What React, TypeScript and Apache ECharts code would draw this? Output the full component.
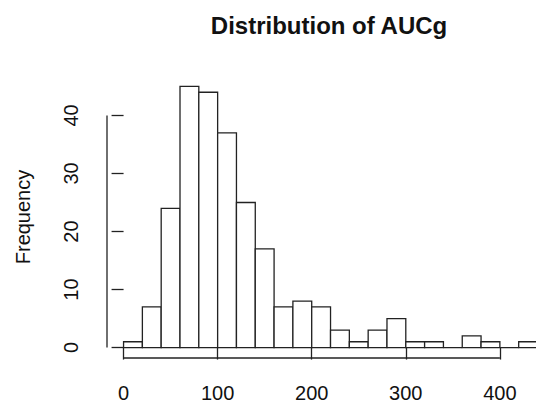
import React, { useEffect, useRef } from "react";
import * as echarts from "echarts";

const binStarts = [0, 20, 40, 60, 80, 100, 120, 140, 160, 180, 200, 220, 240, 260, 280, 300, 320, 340, 360, 380, 400, 420];
const binWidth = 20;
const counts = [1, 7, 24, 45, 44, 37, 25, 17, 7, 8, 7, 3, 1, 3, 5, 1, 1, 0, 2, 1, 0, 1];
const xTicks = [0, 100, 200, 300, 400];
const yTicks = [0, 10, 20, 30, 40];

const FONT = "'Liberation Sans', Arial, Helvetica, sans-serif";

export default function App() {
  const ref = useRef<HTMLDivElement>(null);
  useEffect(() => {
    if (!ref.current) return;
    const chart = echarts.init(ref.current, null, { renderer: "svg" });
    const xMin = -17.6;
    const xMax = 438.4;
    const yMin = -1.8;
    const yMax = 46.8;
    const barData = binStarts.map((s, i) => [s, s + binWidth, counts[i]]);
    chart.setOption({
      animation: false,
      backgroundColor: "#ffffff",
      title: {
        text: "Distribution of AUCg",
        left: 329,
        top: 13,
        padding: 0,
        textAlign: "center",
        textStyle: { fontFamily: FONT, fontSize: 24, fontWeight: "bold", color: "#111" },
      },
      grid: { left: 107, right: 0, top: 76, bottom: 45, containLabel: false },
      xAxis: {
        type: "value",
        min: xMin,
        max: xMax,
        axisLine: { show: false },
        splitLine: { show: false },
        axisTick: { show: true, customValues: xTicks, length: 12, lineStyle: { color: "#222", width: 1.3 } },
        axisLabel: { show: true, customValues: xTicks, margin: 25, fontFamily: FONT, fontSize: 20, color: "#111" },
      },
      yAxis: {
        type: "value",
        min: yMin,
        max: yMax,
        name: "Frequency",
        nameLocation: "middle",
        nameGap: 74,
        nameTextStyle: { fontFamily: FONT, fontSize: 20, color: "#111" },
        axisLine: { show: false },
        splitLine: { show: false },
        axisTick: { show: true, customValues: yTicks, length: 12, lineStyle: { color: "#222", width: 1.3 } },
        axisLabel: { show: true, customValues: yTicks, rotate: 90, margin: 26, fontFamily: FONT, fontSize: 20, color: "#111" },
      },
      series: [
        {
          type: "custom",
          clip: false,
          data: barData,
          renderItem: (params: any, api: any) => {
            const p0 = api.coord([api.value(0), 0]);
            const p1 = api.coord([api.value(1), api.value(2)]);
            return {
              type: "polygon",
              shape: { points: [[p0[0], p0[1]], [p0[0], p1[1]], [p1[0], p1[1]], [p1[0], p0[1]]] },
              style: { fill: "#ffffff", stroke: "#222", lineWidth: 1.3 },
            };
          },
        },
        {
          type: "custom",
          clip: false,
          data: [[0]],
          renderItem: (params: any, api: any) => {
            const a = api.coord([xTicks[0], yMin]);
            const b = api.coord([xTicks[xTicks.length - 1], yMin]);
            const c = api.coord([xMin, yTicks[0]]);
            const d = api.coord([xMin, yTicks[yTicks.length - 1]]);
            return {
              type: "group",
              children: [
                { type: "line", shape: { x1: a[0], y1: a[1], x2: b[0], y2: b[1] }, style: { stroke: "#222", lineWidth: 1.3 } },
                { type: "line", shape: { x1: c[0], y1: c[1], x2: d[0], y2: d[1] }, style: { stroke: "#222", lineWidth: 1.3 } },
              ],
            };
          },
        },
      ],
    });
    return () => chart.dispose();
  }, []);
  return <div ref={ref} style={{ position: "fixed", left: 0, top: 0, width: 536, height: 403 }} />;
}
